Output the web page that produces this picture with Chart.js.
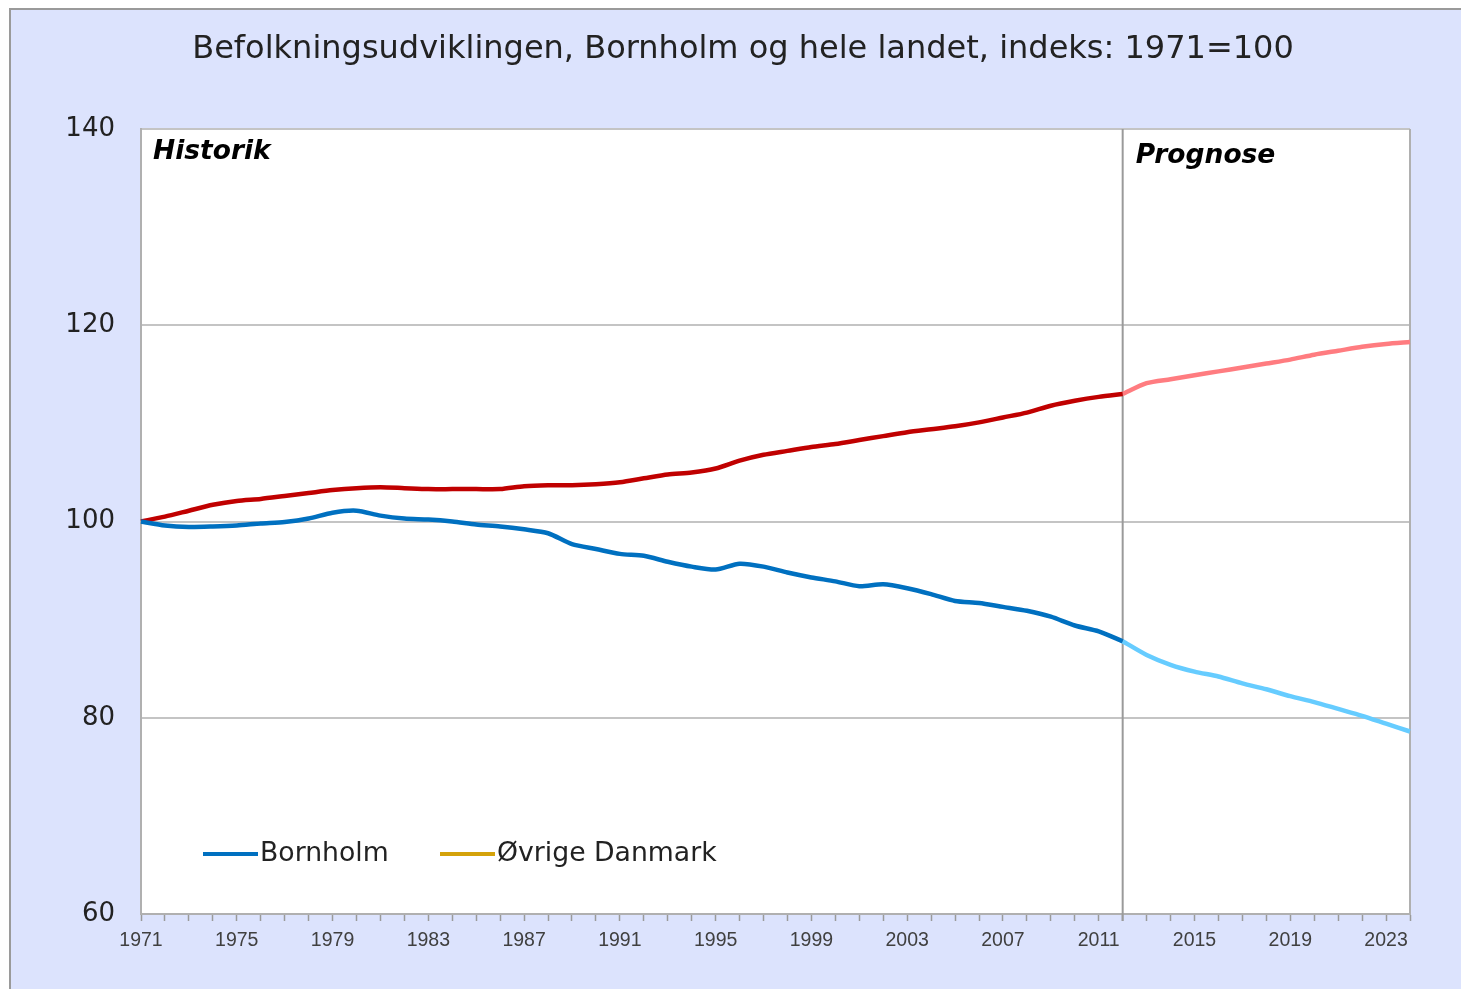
<!DOCTYPE html>
<html>
<head>
<meta charset="utf-8">
<script src="https://cdn.jsdelivr.net/npm/chart.js@4.4.1/dist/chart.umd.min.js"></script>
<style>
  html, body { margin: 0; padding: 0; background: #fff; }
  #wrap { width: 1461px; height: 989px; position: relative; }
</style>
</head>
<body>
<div id="wrap"><canvas id="chart"></canvas></div>
<script>
// Years on the category axis (points sit on the tick marks)
const years = [];
for (let y = 1971; y <= 2024; y++) years.push(String(y));

const lastHistoricYear = '2012';

// Bornholm, index 1971=100 (historik 1971-2012)
const bornholmHist = [
  100.0, 99.6, 99.45, 99.5, 99.6, 99.8, 99.95, 100.3, 100.9, 101.1,
  100.6, 100.3, 100.2, 100.0, 99.7, 99.5, 99.2, 98.8, 97.7, 97.2,
  96.7, 96.5, 95.9, 95.4, 95.1, 95.7, 95.4, 94.8, 94.3, 93.9,
  93.4, 93.6, 93.2, 92.6, 91.9, 91.7, 91.3, 90.9, 90.3, 89.4,
  88.8, 87.8
];
// Bornholm, prognose 2012-2024
const bornholmProg = [87.8, 86.4, 85.4, 84.7, 84.2, 83.5, 82.9, 82.2, 81.6, 80.9, 80.2, 79.4, 78.6];

// Hele landet, index 1971=100 (historik 1971-2012)
const landetHist = [
  100.0, 100.5, 101.1, 101.7, 102.1, 102.3, 102.6, 102.9, 103.2, 103.4,
  103.5, 103.4, 103.3, 103.3, 103.3, 103.3, 103.6, 103.7, 103.7, 103.8,
  104.0, 104.4, 104.8, 105.0, 105.4, 106.2, 106.8, 107.2, 107.6, 107.9,
  108.3, 108.7, 109.1, 109.4, 109.7, 110.1, 110.6, 111.1, 111.8, 112.3,
  112.7, 113.0
];
// Hele landet, prognose 2012-2024
const landetProg = [113.0, 114.1, 114.5, 114.9, 115.3, 115.7, 116.1, 116.5, 117.0, 117.4, 117.8, 118.1, 118.3];

const yTicks = [60, 80, 100, 120, 140];

const legendItems = [
  { label: 'Bornholm', color: '#0070c0' },
  { label: 'Øvrige Danmark', color: '#d4a20a' }
];

const titleText = 'Befolkningsudviklingen, Bornholm og hele landet, indeks: 1971=100';

// pad historic series with nulls at the end, forecast with nulls at the start
function histSeries(vals) {
  return years.map((y, i) => (i < vals.length ? vals[i] : null));
}
function progSeries(vals) {
  const start = years.length - vals.length;
  return years.map((y, i) => (i >= start ? vals[i - start] : null));
}

const frameBg = '#dce3fd';

const backgroundPlugin = {
  id: 'frame',
  beforeDraw(chart) {
    const { ctx, chartArea } = chart;
    ctx.save();
    ctx.fillStyle = '#ffffff';
    ctx.fillRect(0, 0, chart.width, chart.height);
    ctx.fillStyle = frameBg;
    ctx.fillRect(10, 9, chart.width, chart.height);
    ctx.strokeStyle = '#9a9a9a';
    ctx.lineWidth = 2;
    ctx.beginPath();
    ctx.moveTo(10, chart.height);
    ctx.lineTo(10, 9);
    ctx.lineTo(chart.width, 9);
    ctx.stroke();
    ctx.fillStyle = '#ffffff';
    ctx.fillRect(chartArea.left, chartArea.top, chartArea.right - chartArea.left, chartArea.bottom - chartArea.top);

    // title
    ctx.fillStyle = '#222222';
    ctx.font = '32px "DejaVu Sans"';
    ctx.textAlign = 'center';
    ctx.textBaseline = 'middle';
    ctx.fillText(titleText, 743, 50);
    ctx.restore();
  },
  beforeDatasetsDraw(chart) {
    const { ctx, chartArea, scales } = chart;
    const x = scales.x.getPixelForValue(years.indexOf(lastHistoricYear));
    ctx.save();
    // right border of the plot area
    ctx.strokeStyle = '#b0b0b0';
    ctx.lineWidth = 2;
    ctx.beginPath();
    ctx.moveTo(chartArea.right, chartArea.top);
    ctx.lineTo(chartArea.right, chartArea.bottom);
    ctx.stroke();
    // historik / prognose divider
    ctx.strokeStyle = '#9a9a9a';
    ctx.beginPath();
    ctx.moveTo(x, chartArea.top);
    ctx.lineTo(x, chartArea.bottom + 7);
    ctx.stroke();
    ctx.restore();
  },
  afterDraw(chart) {
    const { ctx, chartArea, scales } = chart;
    const x = scales.x.getPixelForValue(years.indexOf(lastHistoricYear));
    ctx.save();
    ctx.fillStyle = '#000000';
    ctx.font = 'italic bold 26.5px "DejaVu Sans"';
    ctx.textAlign = 'left';
    ctx.textBaseline = 'middle';
    ctx.fillText('Historik', chartArea.left + 12, chartArea.top + 23);
    ctx.fillText('Prognose', x + 13, chartArea.top + 27);

    // legend (inside the plot, bottom left)
    ctx.font = '26.7px "DejaVu Sans"';
    let lx = chartArea.left + 62;
    const ly = chartArea.bottom - 60;
    legendItems.forEach((item, i) => {
      ctx.strokeStyle = item.color;
      ctx.lineWidth = 4;
      ctx.beginPath();
      ctx.moveTo(lx, ly);
      ctx.lineTo(lx + 55, ly);
      ctx.stroke();
      ctx.fillStyle = '#222222';
      ctx.fillText(item.label, lx + 57, ly);
      lx += 237;
    });
    ctx.restore();
  }
};

const lineStyle = {
  borderWidth: 4.5,
  pointRadius: 0,
  tension: 0.25,
  spanGaps: false,
  fill: false
};

new Chart(document.getElementById('chart'), {
  type: 'line',
  data: {
    labels: years,
    datasets: [
      { label: 'Bornholm', data: histSeries(bornholmHist), borderColor: '#0070c0', ...lineStyle },
      { label: 'Bornholm prognose', data: progSeries(bornholmProg), borderColor: '#66ccff', ...lineStyle },
      { label: 'Hele landet', data: histSeries(landetHist), borderColor: '#c00000', ...lineStyle },
      { label: 'Hele landet prognose', data: progSeries(landetProg), borderColor: '#ff7c80', ...lineStyle }
    ]
  },
  options: {
    responsive: true,
    maintainAspectRatio: false,
    animation: false,
    layout: { padding: { left: 65, right: 51, top: 129, bottom: 36 } },
    plugins: {
      legend: { display: false },
      title: { display: false },
      tooltip: { enabled: false }
    },
    scales: {
      x: {
        type: 'category',
        offset: false,
        grid: {
          drawOnChartArea: false,
          drawTicks: true,
          tickLength: 7,
          tickColor: '#9a9a9a',
          tickWidth: 1.5
        },
        border: { display: true, color: '#b0b0b0', width: 2 },
        ticks: {
          autoSkip: false,
          maxRotation: 0,
          minRotation: 0,
          padding: 8,
          color: '#404040',
          font: { family: '"Liberation Sans"', size: 19.5 },
          callback: function(value, index) {
            return index % 4 === 0 ? years[index] : '';
          }
        },
        afterFit: function(scale) { scale.height = 39; }
      },
      y: {
        min: 60,
        max: 140,
        afterBuildTicks: function(scale) {
          scale.ticks = yTicks.map(v => ({ value: v }));
        },
        grid: {
          color: '#c4c4c4',
          lineWidth: 2,
          drawTicks: false
        },
        border: { display: true, color: '#b0b0b0', width: 2 },
        ticks: {
          padding: 26,
          color: '#222222',
          font: { family: '"DejaVu Sans"', size: 26 }
        },
        afterFit: function(scale) { scale.width = 76; }
      }
    }
  },
  plugins: [backgroundPlugin]
});
</script>
</body>
</html>
